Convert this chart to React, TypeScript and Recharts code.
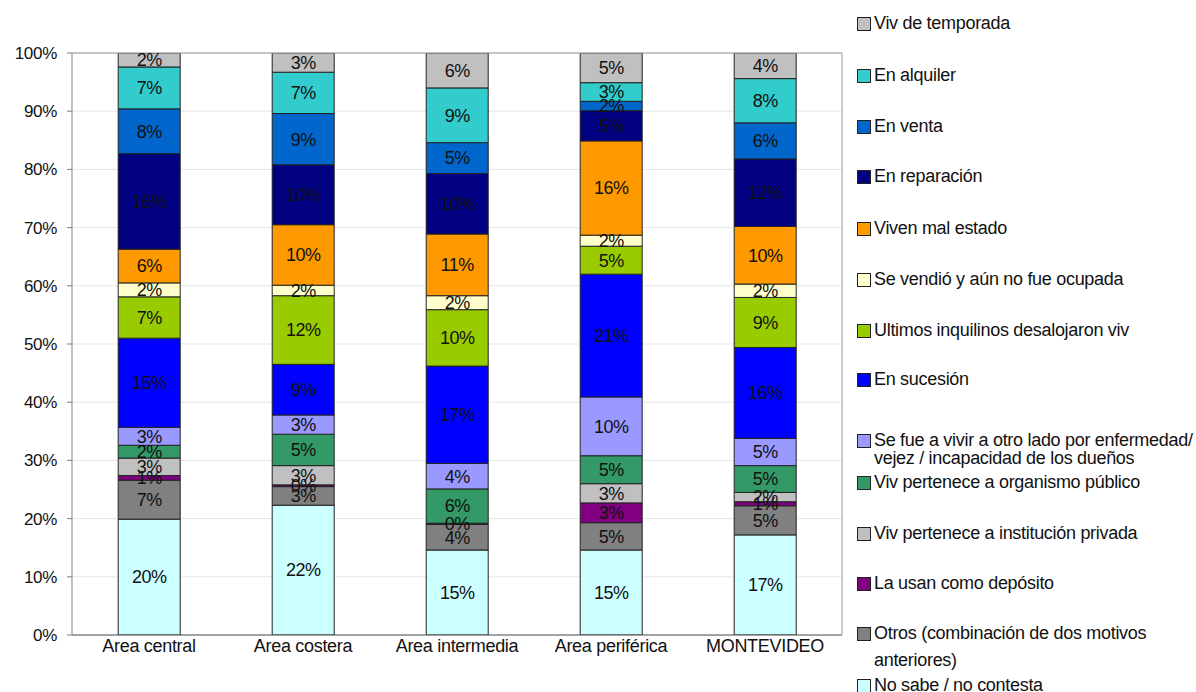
import React from 'react';
import { BarChart, Bar, XAxis, YAxis, CartesianGrid, Legend, LabelList, ReferenceLine } from 'recharts';

const categories = ['Area central', 'Area costera', 'Area intermedia', 'Area periférica', 'MONTEVIDEO'];

// porcentajes por zona (de abajo hacia arriba en cada barra)
const noSabe = [19.9, 22.3, 14.6, 14.6, 17.2];
const otros = [6.7, 3.2, 4.4, 4.7, 5.0];
const deposito = [0.8, 0.3, 0.2, 3.4, 0.7];
const institucionPrivada = [3.0, 3.3, 0, 3.3, 1.6];
const organismoPublico = [2.2, 5.4, 5.9, 4.8, 4.6];
const seFue = [3.1, 3.3, 4.4, 10.1, 4.7];
const sucesion = [15.3, 8.7, 16.7, 21.1, 15.6];
const desalojaron = [7.1, 11.8, 9.7, 4.8, 8.6];
const seVendio = [2.4, 1.8, 2.4, 1.9, 2.3];
const malEstado = [5.8, 10.4, 10.6, 16.2, 9.9];
const reparacion = [16.4, 10.3, 10.4, 5.2, 11.6];
const venta = [7.7, 8.8, 5.3, 1.6, 6.2];
const alquiler = [7.2, 7.1, 9.4, 3.2, 7.6];
const temporada = [2.4, 3.3, 6.0, 5.1, 4.4];

const seriesNames = [
  'No sabe / no contesta',
  'Otros (combinación de dos motivos\nanteriores)',
  'La usan como depósito',
  'Viv pertenece a institución privada',
  'Viv pertenece a organismo público',
  'Se fue a vivir a otro lado por enfermedad/\nvejez / incapacidad de los dueños',
  'En sucesión',
  'Ultimos inquilinos desalojaron viv',
  'Se vendió y aún no fue ocupada',
  'Viven mal estado',
  'En reparación',
  'En venta',
  'En alquiler',
  'Viv de temporada',
];

const seriesValues = [
  noSabe, otros, deposito, institucionPrivada, organismoPublico, seFue, sucesion,
  desalojaron, seVendio, malEstado, reparacion, venta, alquiler, temporada,
];

const yTicks = [0, 10, 20, 30, 40, 50, 60, 70, 80, 90, 100];

const colors = [
  '#CCFFFF', '#808080', '#800080', '#C0C0C0', '#339966', '#9999FF', '#0000FF',
  '#99CC00', '#FFFFCC', '#FF9900', '#000080', '#0066CC', '#33CCCC', '#C0C0C0',
];

// centro vertical de la primera línea de cada entrada (de arriba hacia abajo)
const legendTops = [23, 75, 126, 176, 228, 279, 330, 379, 440, 482, 533, 583, 633, 685];
const legendLineHeights = [20, 20, 20, 20, 20, 20, 20, 20, 18, 20, 20, 20, 27, 20];

const data = categories.map((name, i) => {
  const row: Record<string, string | number> = { name };
  seriesValues.forEach((vals, s) => {
    row[`s${s}`] = vals[i];
  });
  return row;
});

const FONT = '"Liberation Sans", Arial, sans-serif';

const CustomLegend = () => {
  const order = seriesNames.map((_, i) => seriesNames.length - 1 - i);
  return (
    <div style={{ position: 'relative', width: 339, height: 692, fontFamily: FONT }}>
      {order.map((s, idx) => {
        const lh = legendLineHeights[idx];
        return (
          <div
            key={s}
            style={{
              position: 'absolute',
              left: 0,
              top: legendTops[idx] - lh / 2,
              display: 'flex',
              alignItems: 'flex-start',
            }}
          >
            <div
              style={{
                width: 12,
                height: 12,
                marginTop: (lh - 13) / 2,
                background: colors[s],
                border: '1px solid #222',
                flexShrink: 0,
              }}
            />
            <div
              style={{
                marginLeft: 3,
                fontSize: 18,
                letterSpacing: -0.3,
                lineHeight: `${lh}px`,
                color: '#111',
                whiteSpace: 'pre',
              }}
            >
              {seriesNames[s]}
            </div>
          </div>
        );
      })}
    </div>
  );
};

const pctLabel = (v: any) => {
  const n = Number(v);
  if (!n) return '';
  return `${Math.round(n)}%`;
};

export default function App() {
  return (
    <div
      style={{
        position: 'absolute',
        left: 0,
        top: 0,
        width: 1196,
        height: 692,
        overflow: 'hidden',
        background: '#fff',
      }}
    >
      <BarChart
        width={1196}
        height={692}
        data={data}
        margin={{ top: 53, right: 353, bottom: 27, left: 10 }}
        barCategoryGap="30%"
      >
        <CartesianGrid vertical={false} stroke="#e6e6e6" />
        <XAxis
          dataKey="name"
          tickLine={false}
          tickSize={0}
          tickMargin={4}
          height={30}
          axisLine={{ stroke: '#555' }}
          tick={{ fontSize: 18, fill: '#111', fontFamily: FONT, letterSpacing: -0.3 }}
          interval={0}
        />
        <YAxis
          domain={[0, 100]}
          ticks={yTicks}
          tickFormatter={(v) => `${v}%`}
          width={62}
          tickSize={5}
          tickMargin={10}
          axisLine={{ stroke: '#808080' }}
          tickLine={{ stroke: '#808080' }}
          tick={{ fontSize: 17, fill: '#111', fontFamily: FONT, letterSpacing: -0.3 }}
          allowDataOverflow
        />
        <YAxis
          yAxisId="borde"
          orientation="right"
          domain={[0, 100]}
          tick={false}
          tickLine={false}
          width={1}
          axisLine={{ stroke: '#999' }}
        />
        <ReferenceLine y={100} stroke="#999" />
        <Legend
          layout="vertical"
          align="center"
          verticalAlign="middle"
          wrapperStyle={{ left: 857, top: 0 }}
          content={() => <CustomLegend />}
        />
        {seriesNames.map((name, s) => (
          <Bar
            key={s}
            dataKey={`s${s}`}
            name={name}
            stackId="a"
            fill={colors[s]}
            stroke="#222"
            strokeWidth={1}
            isAnimationActive={false}
          >
            <LabelList
              dataKey={`s${s}`}
              position="center"
              formatter={pctLabel}
              style={{ fontSize: 18, fill: '#111', fontFamily: FONT, letterSpacing: -0.5 }}
            />
          </Bar>
        ))}
      </BarChart>
    </div>
  );
}
